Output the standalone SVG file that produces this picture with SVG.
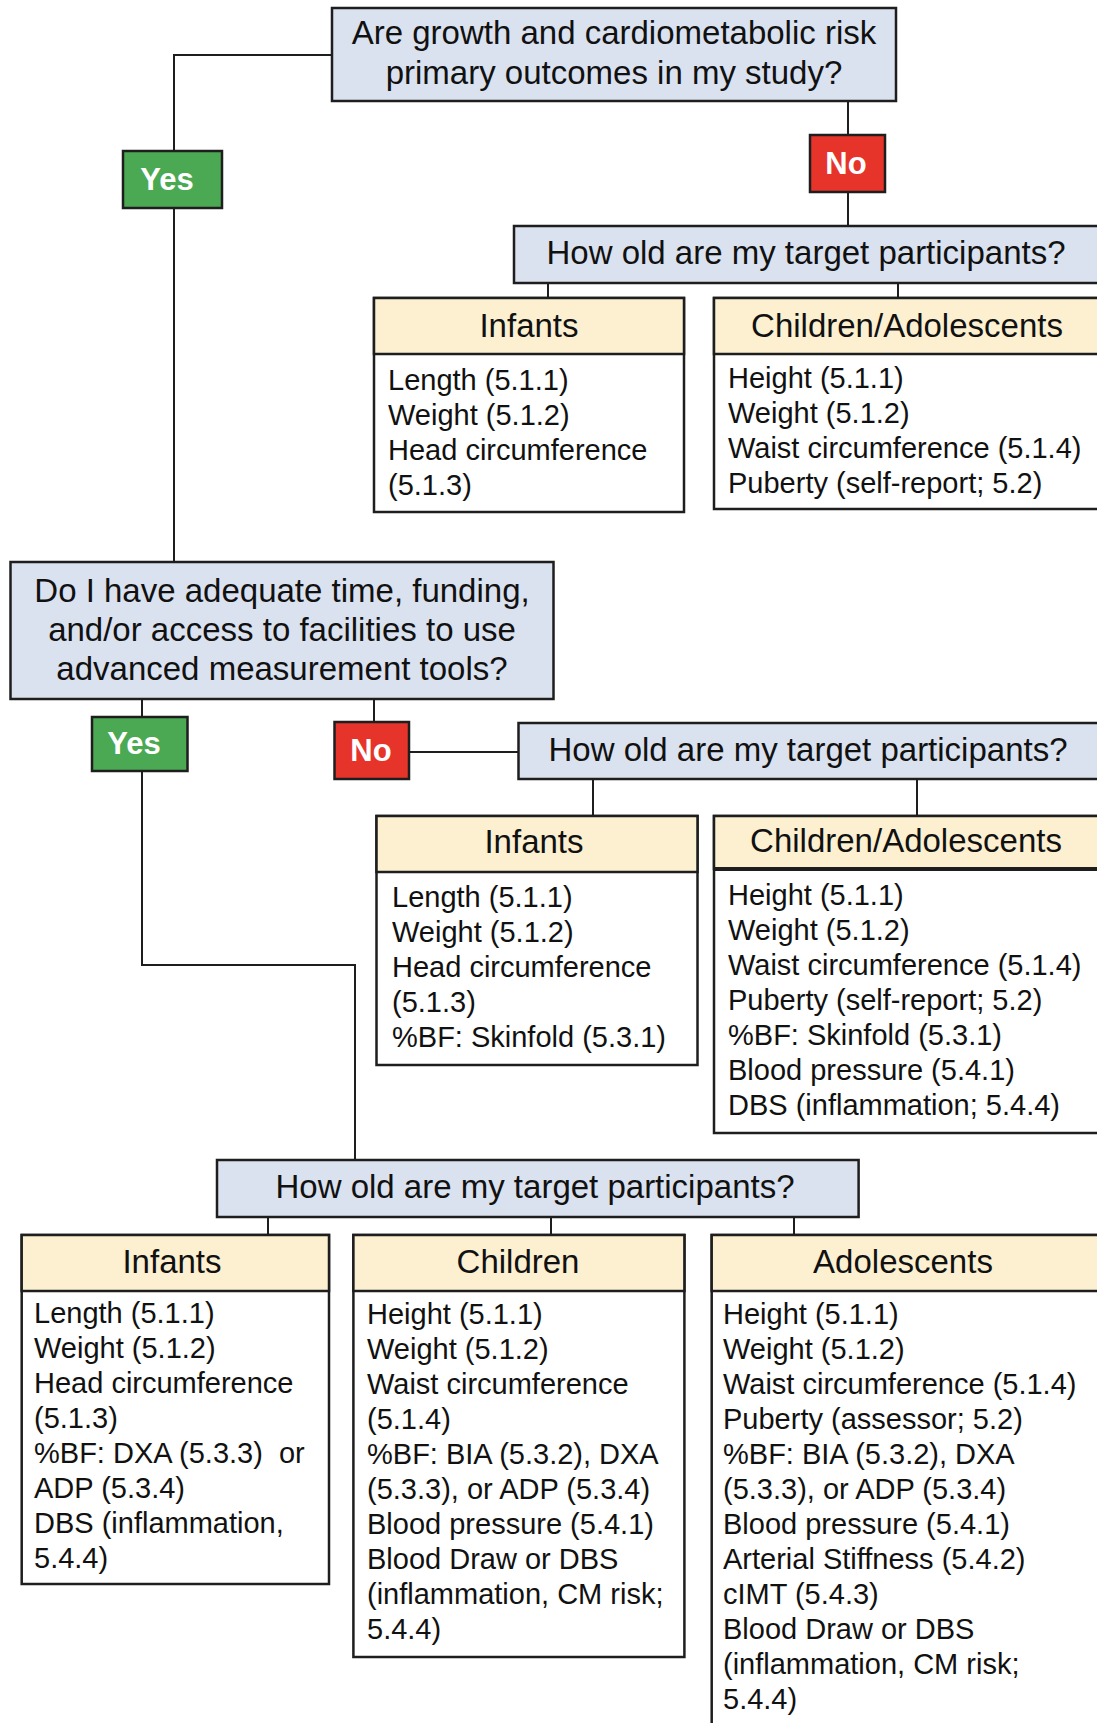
<svg xmlns="http://www.w3.org/2000/svg" width="1097" height="1723" viewBox="0 0 1097 1723">
<style>
  .q { fill: #dae1ef; stroke: #1e1e1e; stroke-width: 2.5; }
  .hd { fill: #fcf0d1; stroke: #1e1e1e; stroke-width: 2.5; }
  .bd { fill: #ffffff; stroke: #1e1e1e; stroke-width: 2.5; }
  .yes { fill: #4ba954; stroke: #1e1e1e; stroke-width: 2.5; }
  .no { fill: #e6342a; stroke: #1e1e1e; stroke-width: 2.5; }
  .sep { stroke: #1e1e1e; stroke-width: 2.5; }
  .conn path { fill: none; stroke: #1e1e1e; stroke-width: 2; }
  text { font-family: "Liberation Sans", Arial, sans-serif; fill: #111; }
  .qt { font-size: 33px; text-anchor: middle; }
  .ht { font-size: 33px; text-anchor: middle; }
  .bt { font-size: 29px; white-space: pre; }
  .lab { font-size: 31px; font-weight: bold; fill: #ffffff; text-anchor: middle; }
</style>

<g id="connectors" class="conn">
  <path d="M332,55 H174 V151"/>
  <path d="M174,208 V562"/>
  <path d="M848,101 V135"/>
  <path d="M848,192 V226"/>
  <path d="M548,283 V298"/>
  <path d="M898,283 V298"/>
  <path d="M142,699 V717"/>
  <path d="M142,771 V965 H355 V1160"/>
  <path d="M374,699 V722"/>
  <path d="M409,752 H518"/>
  <path d="M593,779 V816"/>
  <path d="M917,779 V816"/>
  <path d="M268,1217 V1235"/>
  <path d="M551,1217 V1235"/>
  <path d="M794,1217 V1235"/>
</g>

<g id="q1">
  <rect class="q" x="332" y="8" width="564" height="93"/>
  <text class="qt" x="614" y="44">Are growth and cardiometabolic risk</text>
  <text class="qt" x="614" y="84">primary outcomes in my study?</text>
</g>

<g id="yes1">
  <rect class="yes" x="123" y="151" width="99" height="57"/>
  <text class="lab" x="167" y="190">Yes</text>
</g>

<g id="no1">
  <rect class="no" x="810" y="135" width="75" height="57"/>
  <text class="lab" x="846" y="174">No</text>
</g>

<g id="age1">
  <rect class="q" x="514" y="226" width="600" height="57"/>
  <text class="qt" x="806" y="264">How old are my target participants?</text>
</g>

<g id="infants1">
  <rect class="bd" x="374" y="298" width="310" height="214"/>
  <rect class="hd" x="374" y="298" width="310" height="56"/>
  <text class="ht" x="529" y="337">Infants</text>
  <text class="bt" x="388" y="390">Length (5.1.1)<tspan x="388" dy="35">Weight (5.1.2)</tspan><tspan x="388" dy="35">Head circumference</tspan><tspan x="388" dy="35">(5.1.3)</tspan></text>
</g>

<g id="childadol1">
  <rect class="bd" x="714" y="298" width="400" height="211"/>
  <rect class="hd" x="714" y="298" width="400" height="56"/>
  <text class="ht" x="907" y="337">Children/Adolescents</text>
  <text class="bt" x="728" y="388">Height (5.1.1)<tspan x="728" dy="35">Weight (5.1.2)</tspan><tspan x="728" dy="35">Waist circumference (5.1.4)</tspan><tspan x="728" dy="35">Puberty (self-report; 5.2)</tspan></text>
</g>

<g id="q2">
  <rect class="q" x="10.5" y="562" width="543" height="137"/>
  <text class="qt" x="282" y="602">Do I have adequate time, funding,</text>
  <text class="qt" x="282" y="641">and/or access to facilities to use</text>
  <text class="qt" x="282" y="680">advanced measurement tools?</text>
</g>

<g id="yes2">
  <rect class="yes" x="92" y="717" width="95.5" height="54"/>
  <text class="lab" x="134" y="754">Yes</text>
</g>

<g id="no2">
  <rect class="no" x="334.5" y="722" width="74.5" height="57"/>
  <text class="lab" x="371" y="761">No</text>
</g>

<g id="age2">
  <rect class="q" x="518.5" y="723" width="600" height="56"/>
  <text class="qt" x="808" y="761">How old are my target participants?</text>
</g>

<g id="infants2">
  <rect class="bd" x="376.5" y="816" width="321" height="249"/>
  <rect class="hd" x="376.5" y="816" width="321" height="56"/>
  <text class="ht" x="534" y="853">Infants</text>
  <text class="bt" x="392" y="907">Length (5.1.1)<tspan x="392" dy="35">Weight (5.1.2)</tspan><tspan x="392" dy="35">Head circumference</tspan><tspan x="392" dy="35">(5.1.3)</tspan><tspan x="392" dy="35">%BF: Skinfold (5.3.1)</tspan></text>
</g>

<g id="childadol2">
  <rect class="bd" x="714" y="816" width="400" height="317"/>
  <rect class="hd" x="714" y="816" width="400" height="53"/>
  <line class="sep" x1="714" y1="869" x2="1100" y2="869" style="stroke-width:4"/>
  <text class="ht" x="906" y="852">Children/Adolescents</text>
  <text class="bt" x="728" y="905">Height (5.1.1)<tspan x="728" dy="35">Weight (5.1.2)</tspan><tspan x="728" dy="35">Waist circumference (5.1.4)</tspan><tspan x="728" dy="35">Puberty (self-report; 5.2)</tspan><tspan x="728" dy="35">%BF: Skinfold (5.3.1)</tspan><tspan x="728" dy="35">Blood pressure (5.4.1)</tspan><tspan x="728" dy="35">DBS (inflammation; 5.4.4)</tspan></text>
</g>

<g id="age3">
  <rect class="q" x="217" y="1160" width="641.6" height="57"/>
  <text class="qt" x="535" y="1198">How old are my target participants?</text>
</g>

<g id="infants3">
  <rect class="bd" x="21.7" y="1235" width="307.3" height="349"/>
  <rect class="hd" x="21.7" y="1235" width="307.3" height="56"/>
  <text class="ht" x="172" y="1273">Infants</text>
  <text class="bt" x="34" y="1323">Length (5.1.1)<tspan x="34" dy="35">Weight (5.1.2)</tspan><tspan x="34" dy="35">Head circumference</tspan><tspan x="34" dy="35">(5.1.3)</tspan><tspan x="34" dy="35">%BF: DXA (5.3.3)  or</tspan><tspan x="34" dy="35">ADP (5.3.4)</tspan><tspan x="34" dy="35">DBS (inflammation,</tspan><tspan x="34" dy="35">5.4.4)</tspan></text>
</g>

<g id="children3">
  <rect class="bd" x="353.4" y="1235" width="331" height="422"/>
  <rect class="hd" x="353.4" y="1235" width="331" height="56"/>
  <text class="ht" x="518" y="1273">Children</text>
  <text class="bt" x="367" y="1324">Height (5.1.1)<tspan x="367" dy="35">Weight (5.1.2)</tspan><tspan x="367" dy="35">Waist circumference</tspan><tspan x="367" dy="35">(5.1.4)</tspan><tspan x="367" dy="35">%BF: BIA (5.3.2), DXA</tspan><tspan x="367" dy="35">(5.3.3), or ADP (5.3.4)</tspan><tspan x="367" dy="35">Blood pressure (5.4.1)</tspan><tspan x="367" dy="35">Blood Draw or DBS</tspan><tspan x="367" dy="35">(inflammation, CM risk;</tspan><tspan x="367" dy="35">5.4.4)</tspan></text>
</g>

<g id="adolescents3">
  <rect class="bd" x="711.7" y="1235" width="400" height="600"/>
  <rect class="hd" x="711.7" y="1235" width="400" height="56"/>
  <text class="ht" x="903" y="1273">Adolescents</text>
  <text class="bt" x="723" y="1324">Height (5.1.1)<tspan x="723" dy="35">Weight (5.1.2)</tspan><tspan x="723" dy="35">Waist circumference (5.1.4)</tspan><tspan x="723" dy="35">Puberty (assessor; 5.2)</tspan><tspan x="723" dy="35">%BF: BIA (5.3.2), DXA</tspan><tspan x="723" dy="35">(5.3.3), or ADP (5.3.4)</tspan><tspan x="723" dy="35">Blood pressure (5.4.1)</tspan><tspan x="723" dy="35">Arterial Stiffness (5.4.2)</tspan><tspan x="723" dy="35">cIMT (5.4.3)</tspan><tspan x="723" dy="35">Blood Draw or DBS</tspan><tspan x="723" dy="35">(inflammation, CM risk;</tspan><tspan x="723" dy="35">5.4.4)</tspan></text>
</g>
</svg>
